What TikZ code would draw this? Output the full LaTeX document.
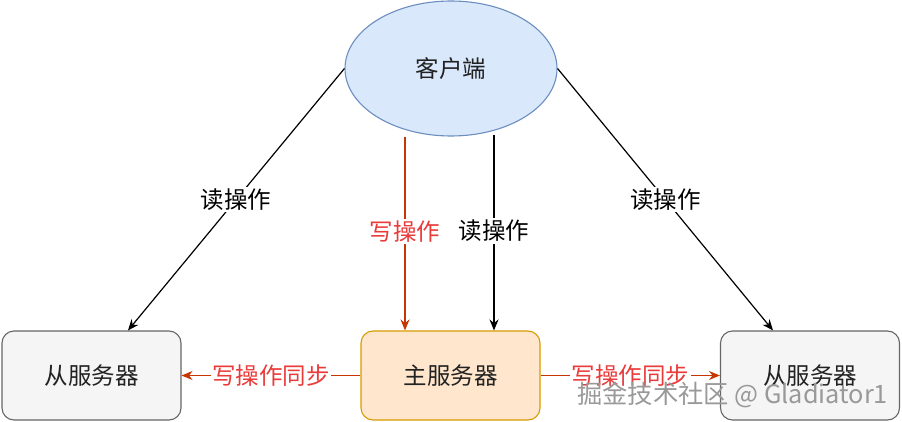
\documentclass[tikz,border=0pt]{standalone}
\usepackage{fontspec}
\setmainfont{Noto Sans CJK SC}
\usetikzlibrary{shapes.geometric,arrows.meta}
\definecolor{cfill}{HTML}{DAE8FC}
\definecolor{cline}{HTML}{6C8EBF}
\definecolor{gfill}{HTML}{F5F5F5}
\definecolor{gline}{HTML}{666666}
\definecolor{ofill}{HTML}{FFE6CC}
\definecolor{oline}{HTML}{D79B00}
\definecolor{wline}{HTML}{C73500}
\definecolor{wtext}{HTML}{EA3B3B}
\definecolor{txt}{HTML}{222222}
\begin{document}
\begin{tikzpicture}[x=1pt,y=-1pt,
  font=\fontsize{23.5}{28}\selectfont,
  srvbox/.style={draw=gline, fill=gfill, rounded corners=12pt, line width=1.1pt,
    minimum width=179pt, minimum height=89pt, text=txt, inner sep=0pt},
  arr/.style={-{Stealth[length=11pt,width=9pt]}, line width=1.2pt},
  rd/.style={arr, draw=black},
  wr/.style={arr, draw=wline},
  lblk/.style={fill=white, text=black, inner sep=2pt},
  lred/.style={fill=white, text=wtext, inner sep=1.5pt}]
\useasboundingbox (0,0) rectangle (902,422);
\node[ellipse, draw=cline, fill=cfill, line width=1.1pt, minimum width=212pt,
  minimum height=135pt, inner sep=0pt, text=txt] (client) at (451,68.5) {客户端};
\node[srvbox] (s1) at (91.5,375.5) {从服务器};
\node[srvbox, fill=ofill, draw=oline] (m) at (450.5,375.5) {主服务器};
\node[srvbox] (s2) at (810,375.5) {从服务器};
\coordinate (w0) at (405,137);
\coordinate (r0) at (494,135);
\draw[rd] (client.west) -- node[lblk, pos=0.5] {读操作} ([xshift=36.5pt]s1.north);
\draw[rd] (client.east) -- node[lblk, pos=0.5] {读操作} ([xshift=-37pt]s2.north);
\draw[wr] (w0) -- node[lred, pos=0.49] {写操作} (w0 |- m.north);
\draw[rd] (r0) -- node[lblk, pos=0.49] {读操作} (r0 |- m.north);
\draw[wr] (m.west) -- node[lred] {写操作同步} (s1.east);
\draw[wr] (m.east) -- node[lred] {写操作同步} (s2.west);
\node[text=gray!80, inner sep=0pt, font=\fontsize{25.3}{30}\selectfont] (wm) at (732.5,395) {掘金技术社区 @ Gladiator1};
\end{tikzpicture}
\end{document}
